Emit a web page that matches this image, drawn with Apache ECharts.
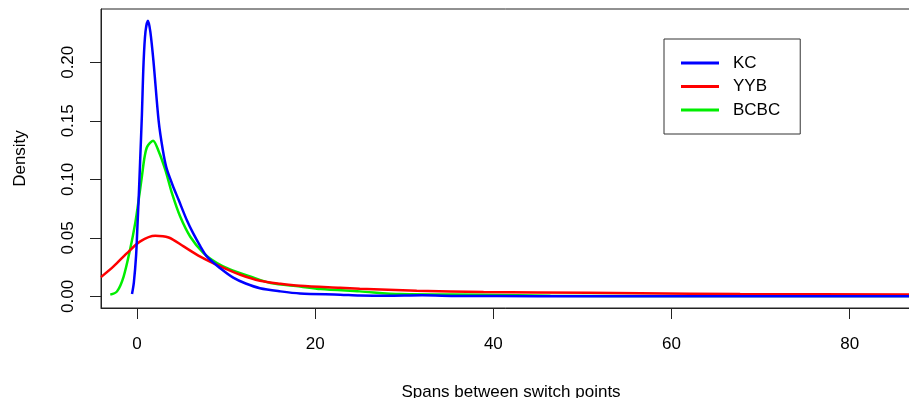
<!DOCTYPE html>
<html>
<head>
<meta charset="utf-8">
<script src="https://cdn.jsdelivr.net/npm/echarts@6/dist/echarts.min.js"></script>
<style>
  html, body { margin: 0; padding: 0; background: #fff; }
  #chart { width: 909px; height: 398px; }
</style>
</head>
<body>
<div id="chart"></div>
<script>
// density curves: [span, density]
const kcData = [
  [-0.56, 0.002], [-0.35, 0.012], [-0.1, 0.035], [0.05, 0.06], [0.18, 0.082],
  [0.35, 0.115], [0.55, 0.155], [0.74, 0.2], [0.95, 0.226], [1.23, 0.2355],
  [1.5, 0.226], [1.86, 0.2], [2.43, 0.15], [2.9, 0.125], [3.3, 0.11],
  [4.0, 0.095], [4.67, 0.0825], [5.6, 0.065], [6.3, 0.054], [7.1, 0.043],
  [7.86, 0.034], [9.35, 0.024], [10.8, 0.016], [12.2, 0.011], [13.8, 0.007],
  [16.1, 0.0043], [18.3, 0.0025], [22.8, 0.0015], [25, 0.0008], [28, 0.0005],
  [32, 0.0009], [36, 0.0004], [45, 0.0002], [60, 0.0002], [88, 0.0001]
];
const yybData = [
  [-4.04, 0.0165], [-2.63, 0.0256], [-1.12, 0.037], [0.37, 0.047], [2.05, 0.0518],
  [3.55, 0.0503], [5.23, 0.0427], [7.1, 0.034], [9.35, 0.0256], [11.6, 0.0185],
  [13.8, 0.0134], [16.1, 0.0108], [18.3, 0.0091], [22.8, 0.0074], [25, 0.0066],
  [31.4, 0.0049], [38.9, 0.0037], [45, 0.0034], [56.5, 0.0027], [67.7, 0.002],
  [88, 0.0017]
];
const bcbcData = [
  [-3.0, 0.0015], [-2.24, 0.0043], [-1.5, 0.017], [-0.75, 0.041], [-0.19, 0.063],
  [0.18, 0.082], [0.56, 0.103], [0.85, 0.119], [1.15, 0.128], [1.8, 0.133],
  [2.43, 0.124], [3.18, 0.108], [3.93, 0.088], [4.86, 0.068], [5.98, 0.051],
  [7.47, 0.037], [8.98, 0.0285], [10.5, 0.0228], [12.7, 0.017], [15, 0.0114],
  [18.3, 0.0085], [20.6, 0.0063], [25, 0.0043], [29.6, 0.002], [38.9, 0.0015],
  [46.4, 0.0006], [60, 0.0004], [88, 0.0003]
];
const xTicks = [0, 20, 40, 60, 80];
const yTicks = [0, 0.05, 0.1, 0.15, 0.2];
const seriesNames = ['KC', 'YYB', 'BCBC'];
const seriesColors = ['#0000ff', '#ff0000', '#00ee00'];

const myChart = echarts.init(document.getElementById('chart'));

const font = 'Liberation Sans, Arial, sans-serif';

const options = {
  animation: false,
  textStyle: { fontFamily: font, color: '#000' },
  grid: {
    left: 101,
    right: -12,
    top: 9,
    bottom: 90,
    outerBoundsMode: 'none',
    containLabel: false,
    show: true,
    borderColor: '#222',
    borderWidth: 1
  },
  legend: {
    orient: 'vertical',
    left: 664,
    top: 39,
    padding: [14, 20, 14, 17],
    borderColor: '#333',
    borderWidth: 1,
    icon: 'rect',
    itemWidth: 38,
    itemHeight: 3,
    itemGap: 3.5,
    textStyle: { fontSize: 17, lineHeight: 20, fontFamily: font, color: '#000', padding: [0, 0, 0, 9] },
    data: seriesNames
  },
  xAxis: {
    type: 'value',
    min: -4.04,
    max: 88,
    name: 'Spans between switch points',
    nameLocation: 'middle',
    nameGap: 76,
    nameTextStyle: { fontSize: 17, fontFamily: font, color: '#000' },
    axisLine: { show: true, onZero: false, lineStyle: { color: '#222' } },
    axisTick: { show: true, inside: false, length: 11, customValues: xTicks, lineStyle: { color: '#222' } },
    axisLabel: { customValues: xTicks, margin: 28, fontSize: 17, fontFamily: font, color: '#000' },
    splitLine: { show: false }
  },
  yAxis: {
    type: 'value',
    min: -0.0099,
    max: 0.2455,
    name: 'Density',
    nameLocation: 'middle',
    nameGap: 72,
    nameTextStyle: { fontSize: 17, fontFamily: font, color: '#000' },
    axisLine: { show: true, onZero: false, lineStyle: { color: '#222' } },
    axisTick: { show: true, inside: false, length: 11, customValues: yTicks, lineStyle: { color: '#222' } },
    axisLabel: {
      customValues: yTicks,
      rotate: 90,
      margin: 24,
      fontSize: 17,
      fontFamily: font,
      color: '#000',
      formatter: v => v.toFixed(2)
    },
    splitLine: { show: false }
  },
  series: [
    { name: seriesNames[0], type: 'line', data: kcData },
    { name: seriesNames[1], type: 'line', data: yybData },
    { name: seriesNames[2], type: 'line', data: bcbcData }
  ].map((s, i) => Object.assign(s, {
    showSymbol: false,
    symbol: 'none',
    smooth: 0.3,
    color: seriesColors[i],
    lineStyle: { color: seriesColors[i], width: 2.5 },
    itemStyle: { color: seriesColors[i] },
    z: 3 - i
  }))
};

myChart.setOption(options);
</script>
</body>
</html>
